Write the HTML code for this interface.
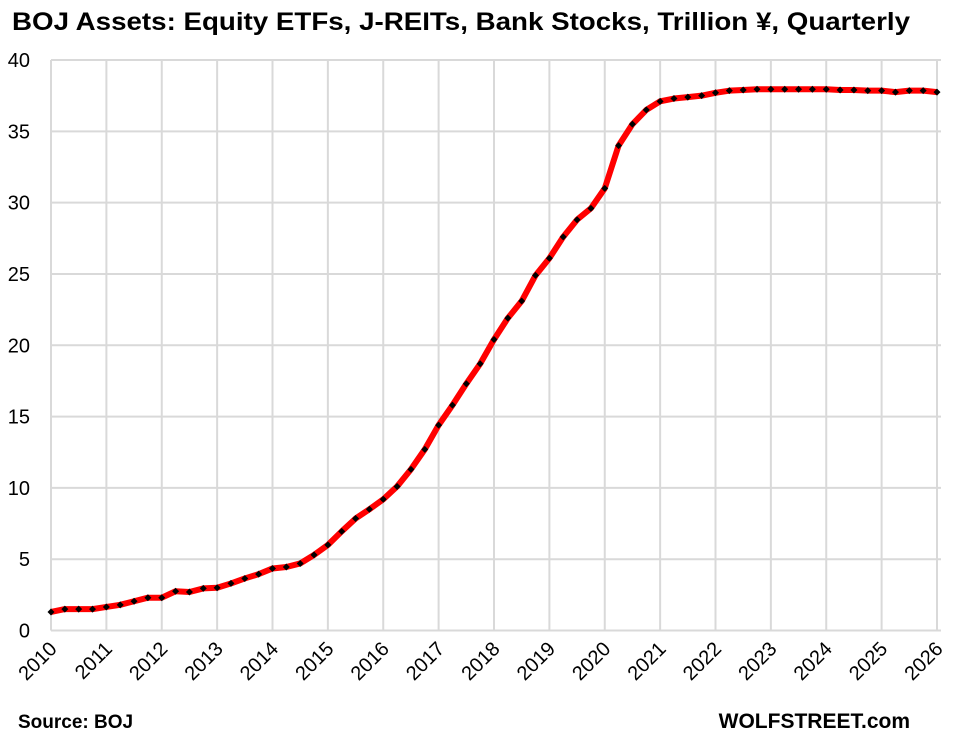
<!DOCTYPE html>
<html><head><meta charset="utf-8"><style>
html,body{margin:0;padding:0;background:#fff;}
svg{display:block;font-family:"Liberation Sans",sans-serif;}
</style></head><body>
<svg width="962" height="742" viewBox="0 0 962 742" xmlns="http://www.w3.org/2000/svg">
<rect width="962" height="742" fill="#fff"/>
<text x="12" y="30" font-size="25" font-weight="bold" fill="#000" textLength="898" lengthAdjust="spacingAndGlyphs">BOJ Assets: Equity ETFs, J-REITs, Bank Stocks, Trillion ¥, Quarterly</text>
<g stroke="#d9d9d9" stroke-width="2" fill="none" id="grid"></g>
<g id="ylab" font-size="20" fill="#000" text-anchor="end"></g>
<g id="xlab" font-size="20" fill="#000"></g>
<polyline id="line" fill="none" stroke="#ff0000" stroke-width="6" stroke-linejoin="round"/>
<g id="pts" fill="#000"></g>
<text x="18" y="728" font-size="19" font-weight="bold">Source: BOJ</text>
<text x="910" y="728" font-size="21" font-weight="bold" text-anchor="end">WOLFSTREET.com</text>
</svg>
<script>
const NS="http://www.w3.org/2000/svg";
const L=51,R=941,T=60,B=630.5,X0=51,DX=55.375;
const yv=v=>B-(B-T)*v/40;
const g=document.getElementById('grid'),yl=document.getElementById('ylab'),xl=document.getElementById('xlab');
function el(t,a,p){const e=document.createElementNS(NS,t);for(const k in a)e.setAttribute(k,a[k]);p.appendChild(e);return e;}
for(let v=0;v<=40;v+=5){const y=yv(v);el('line',{x1:L,x2:R,y1:y,y2:y},g);const t=el('text',{x:30,y:y+7},yl);t.textContent=v;}
for(let i=0;i<=16;i++){const x=X0+DX*i;el('line',{x1:x,x2:x,y1:T,y2:B},g);
const t=el('text',{x:x+7,y:650,'text-anchor':'end',transform:`rotate(-45 ${x+7} 650)`},xl);t.textContent=2010+i;}
const d=[1.3,1.5,1.5,1.5,1.65,1.8,2.05,2.3,2.3,2.75,2.7,2.95,3.0,3.3,3.65,3.95,4.35,4.45,4.7,5.3,6.0,6.95,7.85,8.5,9.2,10.1,11.3,12.7,14.4,15.8,17.3,18.7,20.4,21.9,23.1,24.9,26.1,27.6,28.8,29.6,31.0,34.0,35.5,36.5,37.1,37.3,37.4,37.5,37.7,37.85,37.9,37.95,37.95,37.95,37.95,37.95,37.95,37.9,37.9,37.85,37.85,37.75,37.85,37.85,37.75];
const pts=d.map((v,i)=>[X0+i*DX/4,yv(v)]);
document.getElementById('line').setAttribute('points',pts.map(p=>p.join(',')).join(' '));
const pg=document.getElementById('pts');
pts.forEach(([x,y])=>el('polygon',{points:`${x},${y-3.5} ${x+3.5},${y} ${x},${y+3.5} ${x-3.5},${y}`},pg));
</script>
</body></html>
